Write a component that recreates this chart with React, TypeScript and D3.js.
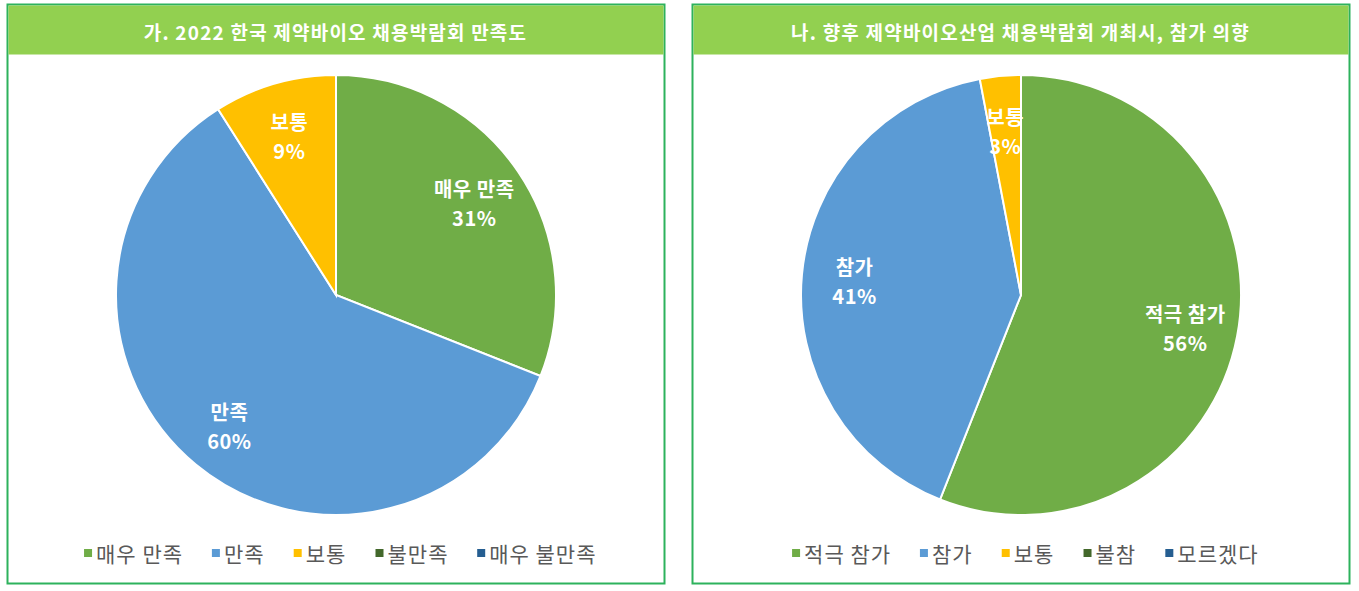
import React from 'react';
import * as d3 from 'd3';

const WIDTH = 1359;
const HEIGHT = 591;

const leftTitle = '가. 2022 한국 제약바이오 채용박람회 만족도';
const leftCategories = ['매우 만족', '만족', '보통', '불만족', '매우 불만족'];
const leftValues = [31, 60, 9, 0, 0];

const rightTitle = '나. 향후 제약바이오산업 채용박람회 개최시, 참가 의향';
const rightCategories = ['적극 참가', '참가', '보통', '불참', '모르겠다'];
const rightValues = [56, 41, 3, 0, 0];

const colors = ['#70AD47', '#5B9BD5', '#FFC000', '#43682B', '#255E91'];

const FONT = "'Noto Sans CJK KR', 'Noto Sans', sans-serif";
const LEGEND_FS = 21;
const LEGEND_LS = 1;

interface PanelProps {
  x: number;
  title: string;
  categories: string[];
  values: number[];
}

const PiePanel: React.FC<PanelProps> = ({ x, title, categories, values }) => {
  const w = 657;
  const h = 579;
  const cx = w / 2 + 0.5;
  const cy = 291;
  const r = 220;

  const pie = d3.pie<number>().sort(null).value((d) => d);
  const arcs = pie(values);
  const arc = d3.arc<d3.PieArcDatum<number>>().innerRadius(0).outerRadius(r);
  const labelArc = d3.arc<d3.PieArcDatum<number>>().innerRadius(r * 0.76).outerRadius(r * 0.76);

  // legend layout, rough text widths
  const gap = 30;
  const itemW = categories.map((c) => {
    const spaces = c.split(' ').length - 1;
    return 12 + (c.length - spaces) * (LEGEND_FS * 0.9 + LEGEND_LS) + spaces * (LEGEND_FS * 0.25 + LEGEND_LS);
  });
  const totalW = d3.sum(itemW) + gap * (categories.length - 1);
  let lx = w / 2 - totalW / 2 + 4;
  const legendX = itemW.map((iw) => {
    const p = lx;
    lx += iw + gap;
    return p;
  });

  return (
    <g transform={`translate(${x},4)`}>
      <rect x={0.5} y={0.5} width={w} height={h} fill="#fff" stroke="#2DB25C" strokeWidth={2} />
      <rect x={1.5} y={1.5} width={w - 2} height={49} fill="#92D050" />
      <text x={w / 2} y={27} textAnchor="middle" dominantBaseline="central" fill="#fff"
        fontFamily={FONT} fontWeight={700} fontSize={19} letterSpacing={1.2}>{title}</text>
      <g transform={`translate(${cx},${cy})`}>
        {arcs.map((a, i) => a.value > 0 && (
          <path key={i} d={arc(a) || ''} fill={colors[i]} stroke="#fff" strokeWidth={2} />
        ))}
        {arcs.map((a, i) => {
          if (a.value <= 0) return null;
          const [lx2, ly2] = labelArc.centroid(a);
          return (
            <text key={i} x={lx2} y={ly2} textAnchor="middle" fill="#fff" fontFamily={FONT}
              fontWeight={700} fontSize={20} letterSpacing={0.5}>
              <tspan x={lx2} dy="-0.2em">{categories[i]}</tspan>
              <tspan x={lx2} dy="1.45em">{a.value}%</tspan>
            </text>
          );
        })}
      </g>
      <g transform="translate(0,549)">
        {categories.map((c, i) => (
          <g key={c} transform={`translate(${legendX[i]},0)`}>
            <rect x={0} y={-4} width={8} height={8} fill={colors[i]} />
            <text x={12} y={0} dominantBaseline="central" fill="#595959" fontFamily={FONT}
              fontSize={LEGEND_FS} letterSpacing={LEGEND_LS}>{c}</text>
          </g>
        ))}
      </g>
    </g>
  );
};

const App: React.FC = () => (
  <svg width={WIDTH} height={HEIGHT} style={{ position: 'absolute', left: 0, top: 0 }}>
    <rect width={WIDTH} height={HEIGHT} fill="#fff" />
    <PiePanel x={7} title={leftTitle} categories={leftCategories} values={leftValues} />
    <PiePanel x={692} title={rightTitle} categories={rightCategories} values={rightValues} />
  </svg>
);

export default App;
